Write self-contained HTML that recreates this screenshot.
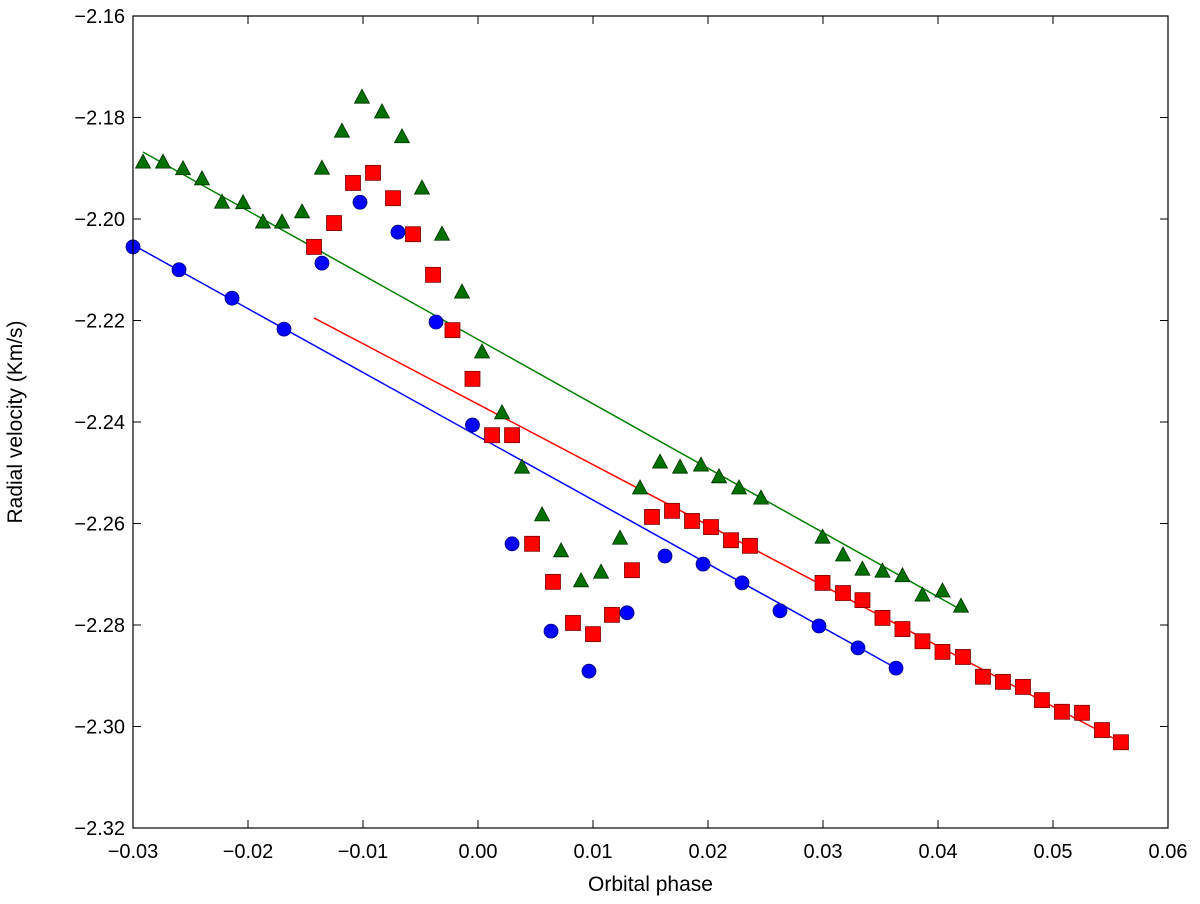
<!DOCTYPE html>
<html><head><meta charset="utf-8"><style>
body{margin:0;background:#fff}
svg text{font-family:"Liberation Sans","DejaVu Sans",sans-serif;fill:#000}
</style></head><body>
<svg id="chart" width="1200" height="899" viewBox="0 0 1200 899"></svg>
<script>
const xTicks=[-0.03,-0.02,-0.01,0.00,0.01,0.02,0.03,0.04,0.05,0.06];
const yTicks=[-2.16,-2.18,-2.20,-2.22,-2.24,-2.26,-2.28,-2.30,-2.32];
const blueX=[-0.0300,-0.0260,-0.02139,-0.01687,-0.01357,-0.01026,-0.00696,-0.00365,-0.00048,0.00296,0.00635,0.00965,0.01296,0.01626,0.01957,0.02296,0.02626,0.02965,0.03304,0.03635];
const blueY=[-2.2055,-2.2100,-2.2156,-2.2217,-2.2087,-2.1967,-2.2026,-2.2203,-2.2406,-2.2640,-2.2812,-2.2891,-2.2776,-2.2664,-2.2680,-2.2717,-2.2772,-2.2802,-2.2845,-2.2885];
const redX=[-0.01426,-0.01252,-0.01087,-0.00913,-0.00739,-0.00565,-0.00391,-0.00222,-0.00048,0.00122,0.00296,0.00470,0.00652,0.00826,0.01000,0.01165,0.01339,0.01513,0.01687,0.01861,0.02026,0.02200,0.02365,0.02996,0.03174,0.03343,0.03517,0.03691,0.03865,0.04039,0.04217,0.04391,0.04565,0.04739,0.04904,0.05078,0.05252,0.05426,0.05591];
const redY=[-2.2055,-2.2008,-2.1929,-2.1909,-2.1959,-2.2030,-2.2110,-2.2219,-2.2315,-2.2426,-2.2426,-2.2640,-2.2715,-2.2796,-2.2818,-2.2780,-2.2692,-2.2587,-2.2575,-2.2595,-2.2607,-2.2633,-2.2644,-2.2717,-2.2737,-2.2751,-2.2786,-2.2808,-2.2832,-2.2853,-2.2863,-2.2902,-2.2912,-2.2922,-2.2948,-2.2971,-2.2973,-2.3007,-2.3031];
const greenX=[-0.02913,-0.02739,-0.02565,-0.02400,-0.02226,-0.02043,-0.01870,-0.01704,-0.01530,-0.01357,-0.01183,-0.01009,-0.00835,-0.00661,-0.00487,-0.00313,-0.00139,0.00035,0.00209,0.00383,0.00557,0.00722,0.00896,0.01070,0.01235,0.01409,0.01583,0.01757,0.01939,0.02096,0.02270,0.02461,0.02996,0.03174,0.03343,0.03517,0.03691,0.03865,0.04039,0.04200];
const greenY=[-2.1888,-2.1888,-2.1901,-2.1921,-2.1967,-2.1968,-2.2006,-2.2006,-2.1986,-2.1900,-2.1827,-2.1760,-2.1789,-2.1838,-2.1939,-2.2030,-2.2144,-2.2262,-2.2382,-2.2489,-2.2583,-2.2654,-2.2713,-2.2696,-2.2629,-2.2530,-2.2479,-2.2489,-2.2485,-2.2508,-2.2530,-2.2550,-2.2627,-2.2662,-2.2690,-2.2694,-2.2703,-2.2741,-2.2733,-2.2763];
const blueFitX=[-0.0300,0.03635];
const blueFitY=[-2.2051,-2.2885];
const redFitX=[-0.01426,0.05591];
const redFitY=[-2.2195,-2.3031];
const greenFitX=[-0.02913,0.04200];
const greenFitY=[-2.1868,-2.2770];

const L=133,R=1168,T=16,B=828,xMin=-0.03,xMax=0.06,yMin=-2.32,yMax=-2.16;
const sx=v=>L+(v-xMin)/(xMax-xMin)*(R-L);
const sy=v=>B-(v-yMin)/(yMax-yMin)*(B-T);
const svg=document.getElementById('chart');
const NS='http://www.w3.org/2000/svg';
function mk(tag,attrs,parent){const e=document.createElementNS(NS,tag);for(const k in attrs)e.setAttribute(k,attrs[k]);(parent||svg).appendChild(e);return e;}

xTicks.forEach((t,i)=>{
  const x=sx(t);
  const a=mk('line',{x1:x,x2:x,y1:B,y2:B-8,stroke:'#000','stroke-width':1});
  
  
  const b=mk('line',{x1:x,x2:x,y1:T,y2:T+8,stroke:'#000','stroke-width':1});
  
  
  const tx=mk('text',{x:x,y:B+30,'text-anchor':'middle','font-size':20});
  tx.textContent=t.toFixed(2).replace('-','\u2212');
  
  
});
yTicks.forEach(t=>{
  const y=sy(t);
  const a=mk('line',{x1:L,x2:L+8,y1:y,y2:y,stroke:'#000','stroke-width':1});
  
  
  const b=mk('line',{x1:R,x2:R-8,y1:y,y2:y,stroke:'#000','stroke-width':1});
  
  
  const tx=mk('text',{x:L-8,y:y+7,'text-anchor':'end','font-size':20});
  tx.textContent=t.toFixed(2).replace('-','\u2212');
  
  
});

function fit(xs,ys,color,name){
  const l=mk('line',{x1:sx(xs[0]),y1:sy(ys[0]),x2:sx(xs[1]),y2:sy(ys[1]),stroke:color,'stroke-width':1.5});
  
  
}
fit(blueFitX,blueFitY,'#0000ff','blue-fit-line');
fit(redFitX,redFitY,'#ff0000','red-fit-line');
fit(greenFitX,greenFitY,'#008000','green-fit-line');

blueX.forEach((v,i)=>{
  const c=mk('circle',{cx:sx(v),cy:sy(blueY[i]),r:7,fill:'#0000ff',stroke:'#00007a','stroke-width':0.8});
  
  
});
redX.forEach((v,i)=>{
  const x=sx(v),y=sy(redY[i]);
  const r=mk('rect',{x:x-7.5,y:y-7.5,width:15,height:15,fill:'#ff0000',stroke:'#7a0000','stroke-width':0.8});
  
  
});
greenX.forEach((v,i)=>{
  const x=sx(v),y=sy(greenY[i]);
  const p=mk('polygon',{points:`${x},${y-8} ${x-7.5},${y+6} ${x+7.5},${y+6}`,fill:'#007000',stroke:'#003000','stroke-width':0.8});
  
  
});

const fr=mk('rect',{x:L,y:T,width:R-L,height:B-T,fill:'none',stroke:'#000','stroke-width':1.2});


const xt=mk('text',{x:(L+R)/2,y:891,'text-anchor':'middle','font-size':21});
xt.textContent='Orbital phase';


const yt=mk('text',{x:0,y:0,'text-anchor':'middle','font-size':21,transform:`translate(22,${(T+B)/2}) rotate(-90)`});
yt.textContent='Radial velocity (Km/s)';


</script>
</body></html>
